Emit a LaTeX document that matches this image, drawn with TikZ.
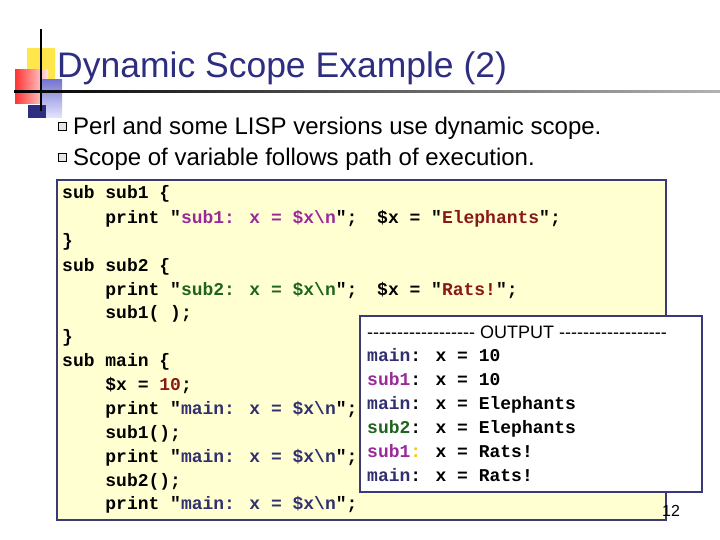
\documentclass[tikz,border=0pt]{standalone}
\usepackage{fontspec}
\setmainfont{Liberation Sans}
\newfontfamily\cod{Liberation Mono}
\definecolor{navy}{HTML}{2E2E80}
\definecolor{boxline}{HTML}{3A3A78}
\definecolor{codebg}{HTML}{FFFFD2}
\definecolor{mag}{HTML}{9A2A9A}
\definecolor{grn}{HTML}{1E641E}
\definecolor{drd}{HTML}{8A1818}
\definecolor{mainc}{HTML}{30306E}
\newcommand\dsh{-{}-{}-{}-{}-{}-{}-{}-{}-{}-{}-{}-{}-{}-{}-{}-{}-{}-{}}
\begin{document}
\begin{tikzpicture}[x=1pt,y=-1pt,
  cl/.style={anchor=base west,inner sep=0pt,font=\cod\bfseries\fontsize{18}{18}\selectfont},
  bul/.style={anchor=base west,inner sep=0pt,font=\fontsize{24}{24}\selectfont},
  ol/.style={anchor=base west,inner sep=0pt,font=\fontsize{18}{18}\selectfont}]
\useasboundingbox (0,0) rectangle (720,540);
% decoration
\fill[yellow!80!orange!70] (27,48) rectangle (55,80);
\shade[left color=red!80, right color=red!10] (15,70) rectangle (48,104);
\shade[top color=blue!40!navy!60, bottom color=blue!10] (40,80) rectangle (62,118);
\fill[navy] (28,105) rectangle (46,118);
\draw[line width=1.5pt] (41,29) -- (41,111);
\shade[left color=black, right color=black!30] (14,91) rectangle (720,93);
\node[anchor=base west,inner sep=0pt,text=navy,font=\fontsize{35.5}{35.5}\selectfont] (title) at (57,78) {Dynamic Scope Example (2)};
% bullets
\draw[line width=0.6pt,fill=black!10] (58,122) rectangle (66,130) node (b1) {};
\node[bul] (t1) at (73,135) {Perl and some LISP versions use dynamic scope.};
\draw[line width=0.6pt,fill=black!10] (58,153) rectangle (66,161) node (b2) {};
\node[bul] (t2) at (73,166) {Scope of variable follows path of execution.};
% code box
\draw[boxline,fill=codebg,line width=2.5pt] (57,180) rectangle (666,520);
\node[cl] (c1) at (62,199) {sub sub1 \{};
\node[cl] (c2) at (62,223) {\ \ \ \ print "\textcolor{mag}{sub1: x = \$x\textbackslash n}";};
\node[cl] (c3) at (62,247) {\}};
\node[cl] (c4) at (62,271) {sub sub2 \{};
\node[cl] (c5) at (62,295) {\ \ \ \ print "\textcolor{grn}{sub2: x = \$x\textbackslash n}";};
\node[cl] (c6) at (62,318) {\ \ \ \ sub1( );};
\node[cl] (c7) at (62,342) {\}};
\node[cl] (c8) at (62,366) {sub main \{};
\node[cl] (c9) at (62,390) {\ \ \ \ \$x = \textcolor{drd}{10};};
\node[cl] (c10) at (62,414) {\ \ \ \ print "\textcolor{mainc}{main: x = \$x\textbackslash n}";};
\node[cl] (c11) at (62,438) {\ \ \ \ sub1();};
\node[cl] (c12) at (62,462) {\ \ \ \ print "\textcolor{mainc}{main: x = \$x\textbackslash n}";};
\node[cl] (c13) at (62,486) {\ \ \ \ sub2();};
\node[cl] (c14) at (62,509) {\ \ \ \ print "\textcolor{mainc}{main: x = \$x\textbackslash n}";};
\node[cl] (r1) at (377,223) {\$x = "\textcolor{drd}{Elephants}";};
\node[cl] (r2) at (377,295) {\$x = "\textcolor{drd}{Rats!}";};
\node[anchor=base west,inner sep=0pt,font=\fontsize{16}{16}\selectfont] (pg) at (662,516) {12};
% output box
\draw[boxline,fill=white,line width=1.5pt] (360,316) rectangle (702,492);
\node[ol] (o0) at (367,338) {\dsh\ OUTPUT \dsh};
\node[cl] (o1) at (367,361) {\textcolor{mainc}{main}: x = 10};
\node[cl] (o2) at (367,385) {\textcolor{mag}{sub1}: x = 10};
\node[cl] (o3) at (367,409) {\textcolor{mainc}{main}: x = Elephants};
\node[cl] (o4) at (367,433) {\textcolor{grn}{sub2}: x = Elephants};
\node[cl] (o5) at (367,457) {\textcolor{mag}{sub1}\textcolor{yellow!60!orange}{:} x = Rats!};
\node[cl] (o6) at (367,481) {\textcolor{mainc}{main}: x = Rats!};
\end{tikzpicture}
\end{document}
